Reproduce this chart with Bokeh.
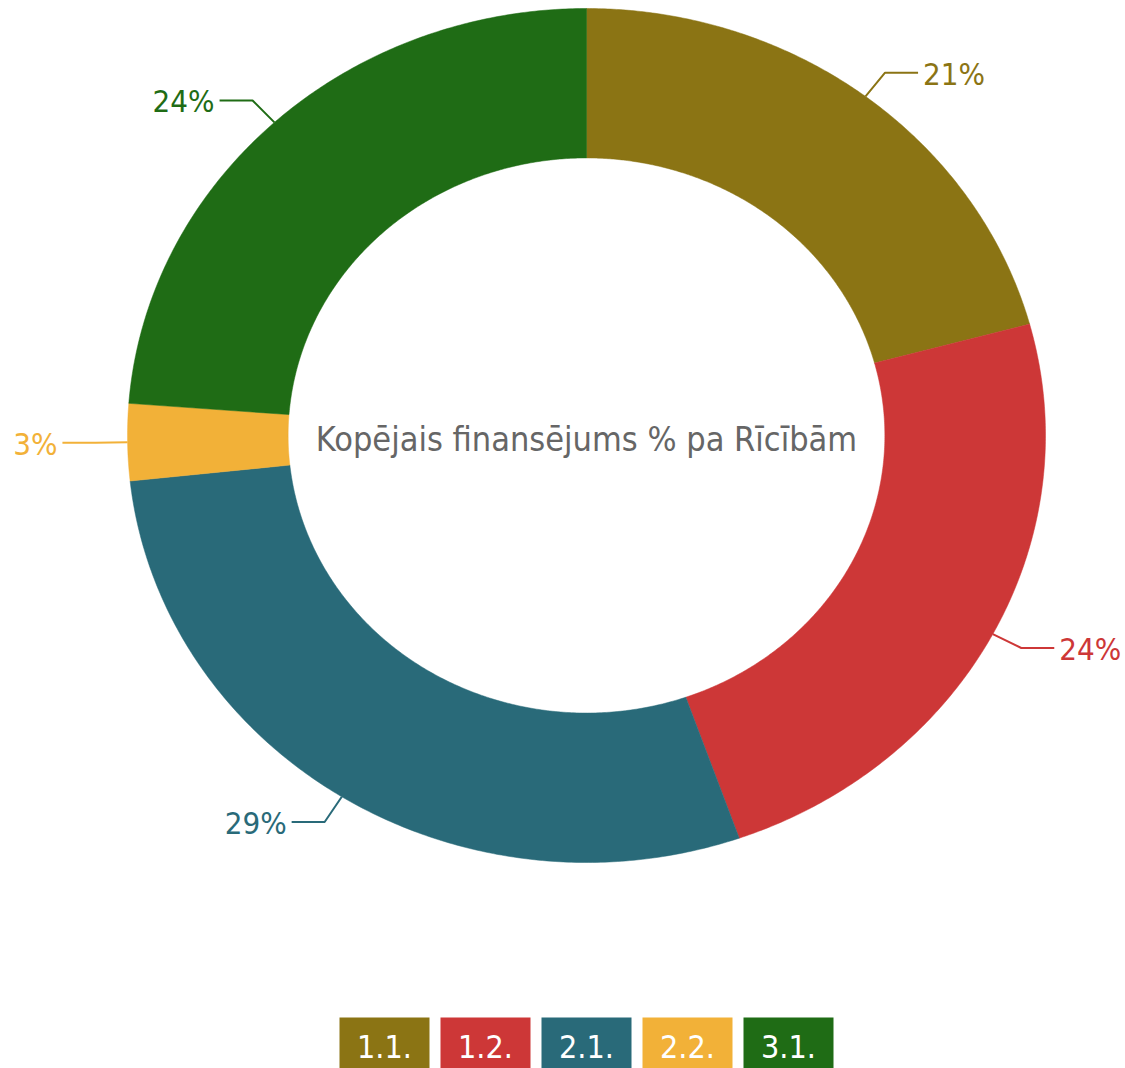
import numpy as np
from bokeh.plotting import figure
from bokeh.models import Range1d, ColumnDataSource
from bokeh.core.properties import value
from bokeh.embed import file_html
from bokeh.resources import INLINE

categories = ["1.1.", "1.2.", "2.1.", "2.2.", "3.1."]
shares = [20.8, 23.8, 28.7, 2.9, 23.8]
labels = ["21%", "24%", "29%", "3%", "24%"]
colors = ["#8b7414", "#cd3737", "#296a79", "#f2b138", "#1f6c15"]
center_title = "Kopējais finansējums % pa Rīcībām"

FONT = value("DejaVu Sans Condensed")
W, H = 1125, 1068
cx, cy = 586, 435
rx, ry = 459, 427
inner = 0.65

p = figure(width=W, height=H, output_backend="svg", toolbar_location=None,
           x_range=Range1d(0, W), y_range=Range1d(H, 0),
           x_axis_location=None, y_axis_location=None, min_border=0)
p.grid.visible = False
p.outline_line_color = None

vals = np.array(shares, dtype=float)
frac = vals / vals.sum()
ends = np.cumsum(frac) * 2 * np.pi
starts = ends - frac * 2 * np.pi

xs, ys = [], []
for a0, a1 in zip(starts, ends):
    t = np.linspace(a0, a1, 200)
    ox = cx + rx * np.sin(t)
    oy = cy - ry * np.cos(t)
    ix = cx + rx * inner * np.sin(t[::-1])
    iy = cy - ry * inner * np.cos(t[::-1])
    xs.append(list(np.concatenate([ox, ix])))
    ys.append(list(np.concatenate([oy, iy])))
p.patches(xs, ys, fill_color=colors, line_color=colors, line_width=0.5)

# leader lines and labels
lx, ly, tx, ty, align = [], [], [], [], []
for a0, a1 in zip(starts, ends):
    m = (a0 + a1) / 2
    sx, sy = np.sin(m), -np.cos(m)
    p0 = (cx + rx * sx, cy + ry * sy)
    p1 = (cx + rx * 1.07 * sx, cy + ry * 1.07 * sy)
    d = 1 if sx >= 0 else -1
    p2 = (p1[0] + d * 33, p1[1])
    lx.append([p0[0], p1[0], p2[0]])
    ly.append([p0[1], p1[1], p2[1]])
    tx.append(p2[0] + d * 5)
    ty.append(p2[1] + 1)
    align.append("left" if d > 0 else "right")
p.multi_line(lx, ly, line_color=colors, line_width=2)
src = ColumnDataSource(dict(x=tx, y=ty, t=labels, c=colors, a=align))
p.text("x", "y", text="t", text_color="c", text_align="a", text_baseline="middle",
       text_font=FONT, text_font_size="31px", source=src)

p.text([cx], [cy + 3], text=[center_title], text_align="center", text_baseline="middle",
       text_color="#666666", text_font=FONT, text_font_size="34px")

# legend boxes
n = len(categories)
bw, gap = 90, 11
x0 = cx - (n * bw + (n - 1) * gap) / 2 + bw / 2
bx = [x0 + i * (bw + gap) for i in range(n)]
p.rect(bx, [1045] * n, width=bw, height=56, fill_color=colors, line_color=None)
p.text(bx, [1046] * n, text=categories, text_align="center", text_baseline="middle",
       text_color="white", text_font=FONT, text_font_size="32px")

open("out.html", "w").write(file_html(p, INLINE))
